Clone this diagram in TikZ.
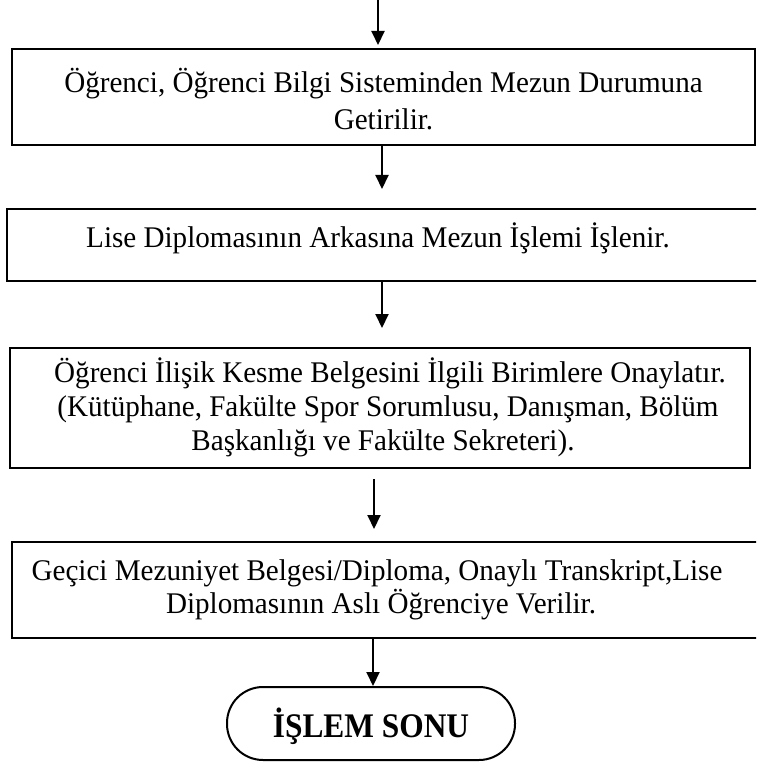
\documentclass[tikz,border=0pt]{standalone}
\usepackage{fontspec}
\setmainfont{Liberation Serif}[FakeStretch=0.97]
\newfontfamily\endfont{Liberation Serif}[FakeStretch=0.91]
\usetikzlibrary{arrows.meta}
\begin{document}
\begin{tikzpicture}[x=1pt,y=-1pt,
  stepbox/.style={draw, line width=2pt, rectangle, inner sep=0pt},
  txt/.style={inner sep=0pt, anchor=base, font=\fontsize{30}{34}\selectfont},
  flow/.style={line width=2pt, -{Triangle[length=14pt,width=13pt]}},
  endbox/.style={draw, line width=2pt, rounded corners=36pt, inner sep=0pt,
    minimum width=288pt, minimum height=73pt}]
\clip (0,0) rectangle (756,767);
\fill[white] (0,0) rectangle (756,767);

% process boxes
\node[stepbox, minimum width=743pt, minimum height=96pt]  (b1) at (383.5,97) {};
\node[stepbox, minimum width=753pt, minimum height=72pt]  (b2) at (383.5,245) {};
\node[stepbox, minimum width=740pt, minimum height=120pt] (b3) at (380,408) {};
\node[stepbox, minimum width=750pt, minimum height=96pt]  (b4) at (387,590) {};
\node[endbox] (e) at (371,723.5) {};

% box texts, one node per printed line
\node[txt] (t1a) at (383.5,93)  {Öğrenci, Öğrenci Bilgi Sisteminden Mezun Durumuna};
\node[txt] (t1b) at (383.5,130) {Getirilir.};
\node[txt] (t2)  at (378,247)   {Lise Diplomasının Arkasına Mezun İşlemi İşlenir.};
\node[txt] (t3a) at (390,382)   {Öğrenci İlişik Kesme Belgesini İlgili Birimlere Onaylatır.};
\node[txt] (t3b) at (388,416)   {(Kütüphane, Fakülte Spor Sorumlusu, Danışman, Bölüm};
\node[txt] (t3c) at (383,450)   {Başkanlığı ve Fakülte Sekreteri).};
\node[txt] (t4a) at (377,580)   {Geçici Mezuniyet Belgesi/Diploma, Onaylı Transkript,Lise};
\node[txt] (t4b) at (381,613)   {Diplomasının Aslı Öğrenciye Verilir.};
\node[inner sep=0pt, anchor=base, font=\endfont\bfseries\fontsize{34.5}{40}\selectfont]
  (te) at (371,737) {İŞLEM SONU};

% connectors
\coordinate (s0) at (378,0);
\coordinate (x1) at (382,0);
\coordinate (x3) at (374,0);
\coordinate (x4) at (373,0);
\draw[flow, shorten >=3pt] (s0) -- (s0 |- b1.north);
\draw[flow, shorten >=19pt] (b1.south -| x1) -- (b2.north -| x1);
\draw[flow, shorten >=19pt] (b2.south -| x1) -- (b3.north -| x1);
\draw[flow, shorten <=10pt, shorten >=12pt] (b3.south -| x3) -- (b4.north -| x3);
\draw[flow] (b4.south -| x4) -- (e.north -| x4);
\end{tikzpicture}
\end{document}
